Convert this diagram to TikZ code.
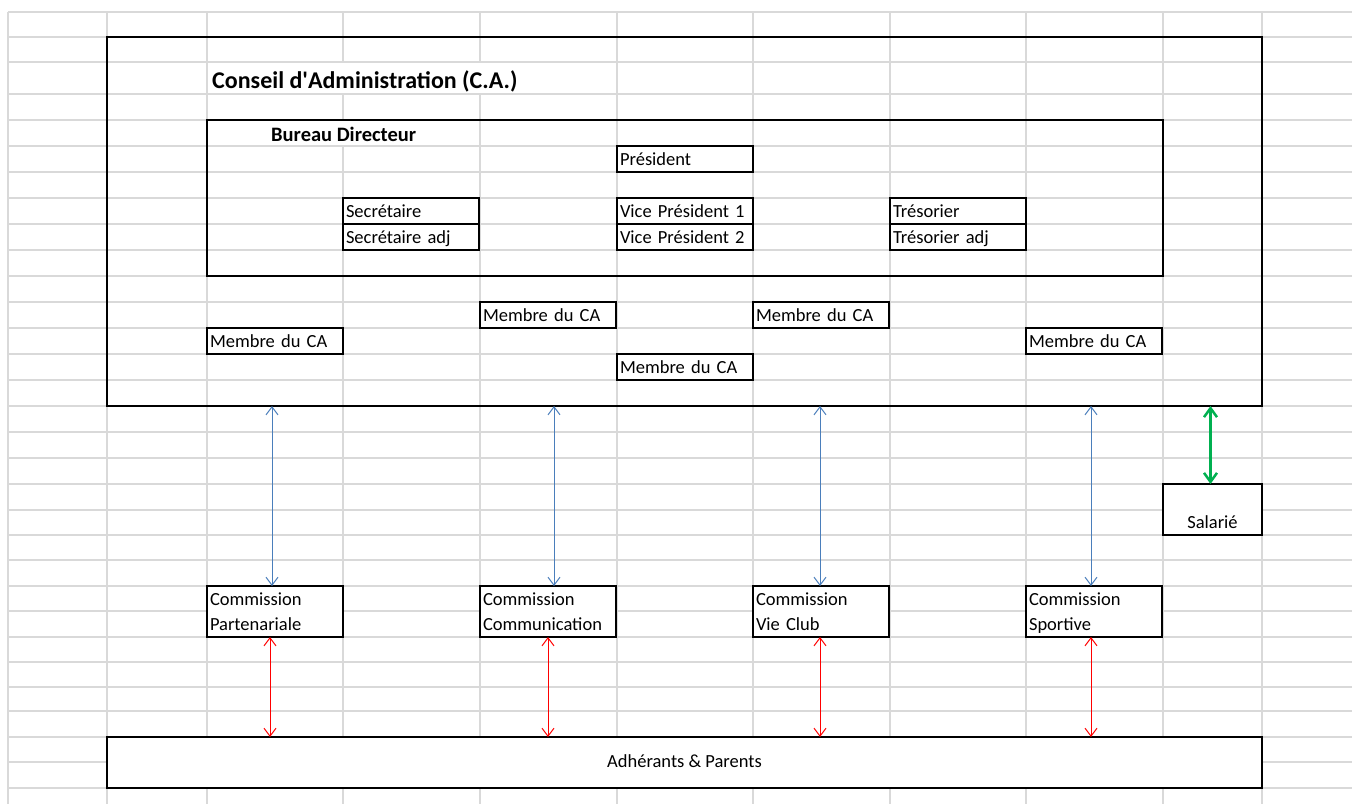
\documentclass[tikz,border=0pt]{standalone}
\usepackage{fontspec}
\setmainfont{Carlito}
\usetikzlibrary{arrows.meta}

\definecolor{gridgray}{RGB}{217,217,217}
\definecolor{linkblue}{RGB}{74,126,187}
\definecolor{staffgreen}{RGB}{0,176,80}

\tikzset{
  frame/.style={draw, line width=2.8pt, outer sep=0pt, inner sep=0pt, anchor=north west},
  cell/.style={frame, minimum width=136pt, minimum height=26pt, text width=130pt,
    inner xsep=3pt, align=left, text height=14pt, text depth=1pt,
    font=\fontsize{18.5}{25}\selectfont},
  commission/.style={cell, fill=white, minimum height=51pt, text depth=26pt},
  heading/.style={anchor=base west, inner sep=0pt},
  gridline/.style={gridgray, line width=1.3pt},
  bluelink/.style={linkblue, line width=1pt, >={Straight Barb[length=8pt,width=12pt]}, <->},
  redlink/.style={red, line width=1pt, >={Straight Barb[length=8pt,width=12pt]}, <->},
  greenlink/.style={staffgreen, line width=2.5pt, >={Straight Barb[length=9pt,width=13pt]}, <->}
}

\begin{document}
\begin{tikzpicture}[x=1pt, y=-1pt]
\useasboundingbox (0,0) rectangle (1352,804);

% spreadsheet grid
\foreach \y in {12,37,62,94,120,146,172,198,224,250,276,302,328,354,380,406,432,458,484,510,535,560,586,611,637,662,687,711,737,762,788}
  \draw[gridline] (8,\y) -- (1352,\y);
\foreach \x in {8,107,207,617,753,890,1026,1163,1262}
  \draw[gridline] (\x,12) -- (\x,804);
\draw[gridline] (343,12) -- (343,62) (343,94) -- (343,120) (343,146) -- (343,804);
\draw[gridline] (480,12) -- (480,62) (480,94) -- (480,804);

% conseil d'administration
\node[frame, minimum width=1155pt, minimum height=369pt] (ca) at (107,37) {};
\node[heading, font=\bfseries\fontsize{24}{28}\selectfont] (catitle) at (212,88) {Conseil d\textquotesingle Administration (C.A.)};

% bureau directeur
\node[frame, minimum width=956pt, minimum height=156pt] (bureau) at (207,120) {};
\node[heading, font=\bfseries\fontsize{20.5}{24}\selectfont] (bdtitle) at (271,141) {Bureau Directeur};

\node[cell] (pres) at (617,146) {Président};
\node[cell] (sec1) at (343,198) {Secrétaire};
\node[cell] (sec2) at (343,224) {Secrétaire adj};
\node[cell] (vp1) at (617,198) {Vice Président 1};
\node[cell] (vp2) at (617,224) {Vice Président 2};
\node[cell] (tres1) at (890,198) {Trésorier};
\node[cell] (tres2) at (890,224) {Trésorier adj};

% membres du CA
\node[cell] (mem1) at (480,302) {Membre du CA};
\node[cell] (mem2) at (753,302) {Membre du CA};
\node[cell] (mem3) at (207,328) {Membre du CA};
\node[cell] (mem4) at (1026,328) {Membre du CA};
\node[cell] (mem5) at (617,354) {Membre du CA};

% commissions
\node[commission] (com1) at (207,586) {Commission\\Partenariale};
\node[commission] (com2) at (480,586) {Commission\\Communication};
\node[commission] (com3) at (753,586) {Commission\\Vie Club};
\node[commission] (com4) at (1026,586) {Commission\\Sportive};

\node[cell, fill=white, minimum width=99pt, text width=93pt, align=center,
  minimum height=51pt, text height=38pt] (salarie) at (1163,484) {Salarié};

\node[frame, fill=white, minimum width=1155pt, minimum height=51pt,
  text height=12pt, text depth=3pt, font=\fontsize{18.5}{22}\selectfont] (adherents) at (107,737) {Adhérants \& Parents};

% liaisons
\foreach \c/\dx in {com1/-3,com2/6,com3/-1,com4/-3}
  \draw[bluelink] ([xshift=\dx pt]\c.north |- ca.south) -- ([xshift=\dx pt]\c.north);
\foreach \c/\dx in {com1/-5,com2/0,com3/-1,com4/-3}
  \draw[redlink] ([xshift=\dx pt]\c.south) -- ([xshift=\dx pt]\c.south |- adherents.north);
\draw[greenlink] ([xshift=-2pt]salarie.north |- ca.south) -- ([xshift=-2pt]salarie.north);
\end{tikzpicture}
\end{document}
